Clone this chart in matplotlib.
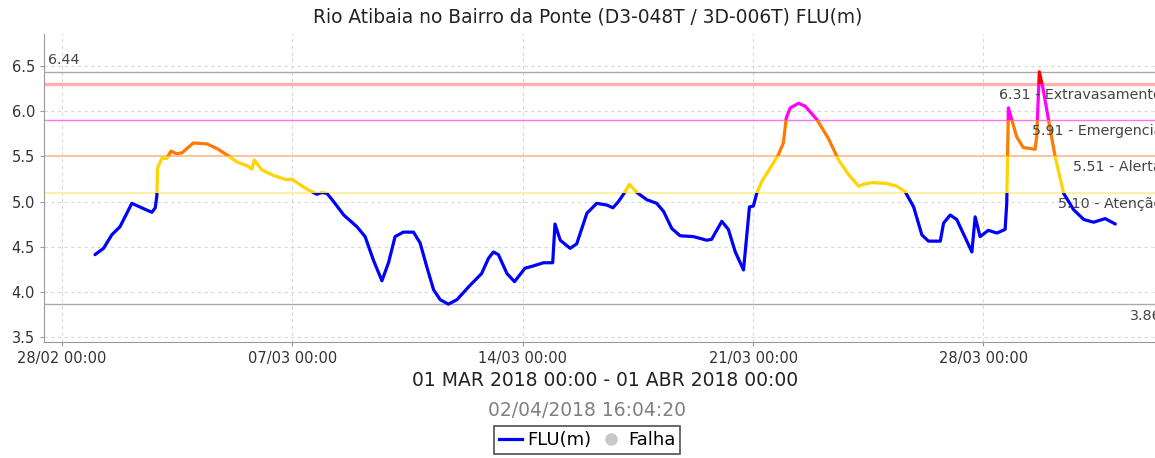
import numpy as np
import pandas as pd
import matplotlib
matplotlib.use('Agg')
import matplotlib.pyplot as plt
import matplotlib.dates as mdates
from matplotlib.patches import Rectangle
from matplotlib.lines import Line2D

plt.rcParams['font.family'] = ['DejaVu Sans']

# dias desde 28/02/2018 00:00
dias = [1.00, 1.26, 1.51, 1.76, 2.12, 2.42, 2.73, 2.83, 2.88, 2.90,
        3.03, 3.18, 3.31, 3.48, 3.64, 3.99, 4.40, 4.70, 5.00, 5.31,
        5.66, 5.77, 5.84, 6.07, 6.42, 6.83, 6.98, 7.34, 7.64, 7.74,
        7.89, 8.05, 8.25, 8.56, 8.96, 9.21, 9.46, 9.72, 9.92, 10.12,
        10.37, 10.68, 10.88, 11.08, 11.29, 11.49, 11.74, 12.00, 12.40, 12.75,
        12.96, 13.11, 13.26, 13.52, 13.75, 14.07, 14.28, 14.63, 14.91, 14.98,
        15.14, 15.44, 15.64, 15.95, 16.25, 16.56, 16.74, 16.91, 17.06, 17.24,
        17.47, 17.77, 18.07, 18.28, 18.53, 18.78, 19.19, 19.59, 19.74, 20.05,
        20.25, 20.46, 20.71, 20.89, 21.01, 21.11, 21.26, 21.52, 21.77, 21.92,
        22.01, 22.13, 22.38, 22.58, 22.94, 23.29, 23.60, 23.90, 24.21, 24.36,
        24.61, 25.06, 25.37, 25.62, 25.88, 26.13, 26.33, 26.69, 26.79, 26.99,
        27.19, 27.65, 27.75, 27.90, 28.15, 28.41, 28.66, 28.71, 28.73, 28.76,
        28.86, 29.01, 29.21, 29.57, 29.62, 29.70, 29.82, 30.03, 30.18, 30.44,
        30.74, 31.05, 31.35, 31.70, 32.01]

flu = [4.41, 4.48, 4.63, 4.72, 4.98, 4.93, 4.88, 4.93, 5.06, 5.37,
       5.48, 5.48, 5.56, 5.53, 5.54, 5.65, 5.64, 5.59, 5.52, 5.44,
       5.39, 5.36, 5.46, 5.35, 5.29, 5.24, 5.25, 5.16, 5.10, 5.08,
       5.10, 5.09, 5.00, 4.85, 4.72, 4.61, 4.35, 4.12, 4.32, 4.61,
       4.66, 4.66, 4.54, 4.28, 4.02, 3.91, 3.86, 3.91, 4.07, 4.20,
       4.37, 4.44, 4.41, 4.20, 4.11, 4.26, 4.28, 4.32, 4.32, 4.75,
       4.57, 4.48, 4.53, 4.87, 4.98, 4.96, 4.93, 5.00, 5.08, 5.19,
       5.10, 5.02, 4.98, 4.89, 4.70, 4.62, 4.61, 4.57, 4.58, 4.78,
       4.69, 4.44, 4.24, 4.94, 4.95, 5.09, 5.22, 5.37, 5.52, 5.65,
       5.93, 6.04, 6.09, 6.06, 5.91, 5.70, 5.46, 5.30, 5.17, 5.19,
       5.21, 5.20, 5.17, 5.11, 4.94, 4.63, 4.56, 4.56, 4.76, 4.85,
       4.80, 4.44, 4.83, 4.61, 4.68, 4.65, 4.69, 4.98, 5.39, 6.04,
       5.91, 5.72, 5.60, 5.58, 5.72, 6.44, 6.24, 5.80, 5.50, 5.09,
       4.91, 4.80, 4.77, 4.81, 4.75]

# cotas de referencia
cotas = [5.10, 5.51, 5.91, 6.31]
nomes_cotas = ['Atenção', 'Alerta', 'Emergencia', 'Extravasamento']
cor_linha_cota = ['#fff0a8', '#ffc49a', '#ff70ff', '#ffb0b0']
larg_linha_cota = [1.5, 1.5, 1.0, 2.4]
cor_faixa = ['#0000ff', '#ffd400', '#ff7a00', '#ff00ff', '#ff0000']

maximo = 6.44
minimo = 3.86

base = pd.Timestamp('2018-02-28')
t = base + pd.to_timedelta(dias, unit='D')

fig = plt.figure(figsize=(11.55, 4.58), dpi=100)
ax = fig.add_axes([44/1155, 116/458, 1122/1155, 308/458])

ax.set_xlim(base - pd.Timedelta(hours=13.2), base + pd.Timedelta(days=33.55))
ax.set_ylim(3.44, 6.86)

# linhas de cota e max/min
for c, cor, lw in zip(cotas, cor_linha_cota, larg_linha_cota):
    ax.axhline(c, color=cor, lw=lw, zorder=2)
ax.axhline(maximo, color='#aaaaaa', lw=1, zorder=2)
ax.axhline(minimo, color='#aaaaaa', lw=1, zorder=2)

# curva colorida por faixa
limites = [-10] + cotas + [20]
for i, cor in enumerate(cor_faixa):
    ln, = ax.plot(t, flu, color=cor, lw=2.3, zorder=4, solid_capstyle='round',
                  solid_joinstyle='round')
    r = Rectangle((-1e6, limites[i]), 2e6, limites[i + 1] - limites[i],
                  transform=ax.transData)
    ln.set_clip_path(r)

# rotulos (cortados na borda direita como no original)
for c, n in zip(cotas, nomes_cotas):
    ax.annotate('%.2f - %s' % (c, n), xy=(0.9965, c), xycoords=('axes fraction', 'data'),
                xytext=(0, -3.5), textcoords='offset points', ha='right', va='top',
                fontsize=10.3, color='#444444', zorder=5)
ax.annotate('%.2f' % maximo, xy=(0.0036, maximo), xycoords=('axes fraction', 'data'),
            xytext=(0, 3.5), textcoords='offset points', ha='left', va='bottom',
            fontsize=10.3, color='#444444')
ax.annotate('%.2f' % minimo, xy=(0.968, minimo), xycoords=('axes fraction', 'data'),
            xytext=(0, -3.5), textcoords='offset points', ha='left', va='top',
            fontsize=10.3, color='#444444')

ax.set_yticks(np.arange(3.5, 6.51, 0.5))
ax.set_xticks(pd.date_range('2018-02-28', periods=5, freq='7D'))
ax.xaxis.set_major_formatter(mdates.DateFormatter('%d/%m %H:%M'))
ax.tick_params(labelsize=10.5, colors='#333333', length=3, width=0.8)
ax.tick_params(axis='both', color='#999999')
ax.grid(True, color='#d8d8d8', ls=(0, (3, 3)), lw=0.8)
for s in ['top', 'right']:
    ax.spines[s].set_visible(False)
for s in ['left', 'bottom']:
    ax.spines[s].set_color('#999999')

fig.text(588/1155, 1 - 17/458, 'Rio Atibaia no Bairro da Ponte (D3-048T / 3D-006T) FLU(m)',
         ha='center', va='center', fontsize=13.4, color='#222222')
fig.text(605/1155, 1 - 381/458, '01 MAR 2018 00:00 - 01 ABR 2018 00:00',
         ha='center', va='center', fontsize=13.5, color='#222222')
fig.text(587/1155, 1 - 411/458, '02/04/2018 16:04:20',
         ha='center', va='center', fontsize=13.5, color='#808080')

handles = [Line2D([], [], color='#0000ff', lw=2.3),
           Line2D([], [], color='#c8c8c8', marker='o', ls='none', markersize=8)]
leg = fig.legend(handles, ['FLU(m)', 'Falha'], loc='center', ncol=2,
                 bbox_to_anchor=(587/1155, 1 - 440/458), fontsize=13,
                 frameon=True, fancybox=False, edgecolor='#222222',
                 handlelength=1.3, handletextpad=0.3, columnspacing=0.4,
                 borderpad=0.25, borderaxespad=0)
leg.get_frame().set_linewidth(1.2)

plt.savefig('out.png', dpi=100)
